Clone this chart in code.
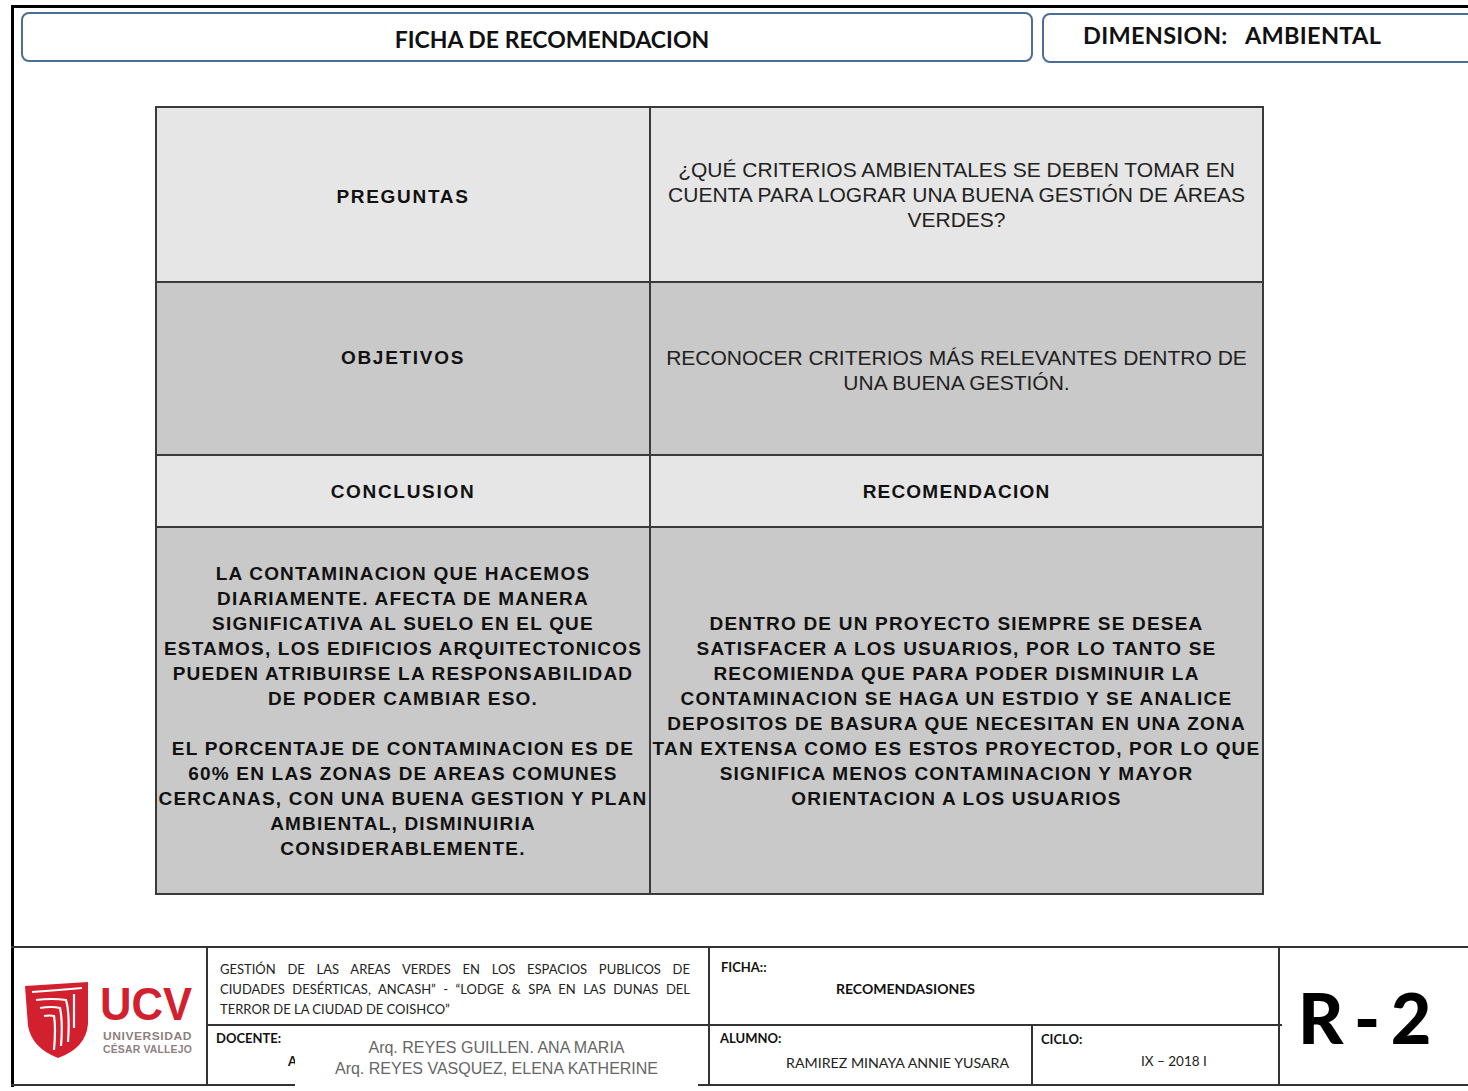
<!DOCTYPE html>
<html>
<head>
<meta charset="utf-8">
<script src="https://cdn.jsdelivr.net/npm/chart.js@4.4.1/dist/chart.umd.min.js"></script>
<style>
  html, body { margin: 0; padding: 0; background: #fff; }
  #page { position: relative; width: 1468px; height: 1091px; overflow: hidden; background: #fff; }
  .abs { position: absolute; }
  .hline { position: absolute; background: #222; }
  .box { position: absolute; border: 2.5px solid #4a6e95; border-radius: 8px; box-sizing: border-box; background: #fff; }
  .cal { font-family: Lato, "Open Sans", sans-serif; color: #111; white-space: nowrap; }
  .cell { position: absolute; box-sizing: border-box; display: flex; flex-direction: column; align-items: center; justify-content: center; font-family: "Liberation Sans", Arial, sans-serif; color: #111; text-align: center; }
  .cell div { white-space: nowrap; line-height: 25px; }
  .bold { font-weight: bold; font-size: 19px; letter-spacing: 1.2px; }
  .label { letter-spacing: 1.7px; }
  .reg { font-weight: normal; font-size: 21px; color: #222; }
  #logoText { position: absolute; left: 100px; top: 984px; font-family: "Liberation Sans", Arial, sans-serif; font-weight: 700; white-space: nowrap; }
  #logoText span { display: block; transform-origin: left top; width: max-content; }
</style>
</head>
<body>
<div id="page"></div>
<script>
// ---- content (text data) ----
const headerTitle = "FICHA DE RECOMENDACION";
const dimensionLabel = "DIMENSION:";
const dimensionValue = "AMBIENTAL";

const rowLabels = ["PREGUNTAS", "OBJETIVOS", "CONCLUSION", ""];
const rowTexts = [
  ["¿QUÉ CRITERIOS AMBIENTALES SE DEBEN TOMAR EN", "CUENTA PARA LOGRAR UNA BUENA GESTIÓN DE ÁREAS", "VERDES?"],
  ["RECONOCER CRITERIOS MÁS RELEVANTES DENTRO DE", "UNA BUENA GESTIÓN."],
  ["RECOMENDACION"]
];
const conclusionLines = [
  "LA CONTAMINACION QUE HACEMOS", "DIARIAMENTE. AFECTA DE MANERA", "SIGNIFICATIVA AL SUELO EN EL QUE",
  "ESTAMOS, LOS EDIFICIOS ARQUITECTONICOS", "PUEDEN ATRIBUIRSE LA RESPONSABILIDAD", "DE PODER CAMBIAR ESO.",
  "", "EL PORCENTAJE DE CONTAMINACION ES DE", "60% EN LAS ZONAS DE AREAS COMUNES",
  "CERCANAS, CON UNA BUENA GESTION Y PLAN", "AMBIENTAL, DISMINUIRIA", "CONSIDERABLEMENTE."
];
const recommendationLines = [
  "DENTRO DE UN PROYECTO SIEMPRE SE DESEA", "SATISFACER A LOS USUARIOS, POR LO TANTO SE",
  "RECOMIENDA QUE PARA PODER DISMINUIR LA", "CONTAMINACION SE HAGA UN ESTDIO Y SE ANALICE",
  "DEPOSITOS DE BASURA QUE NECESITAN EN UNA ZONA", "TAN EXTENSA COMO ES ESTOS PROYECTOD, POR LO QUE",
  "SIGNIFICA MENOS CONTAMINACION Y MAYOR", "ORIENTACION A LOS USUARIOS"
];
const projectLines = [
  "GESTIÓN DE LAS AREAS VERDES EN LOS ESPACIOS PUBLICOS DE",
  "CIUDADES DESÉRTICAS, ANCASH\u201D - \u201CLODGE & SPA EN LAS DUNAS DEL",
  "TERROR DE LA CIUDAD DE COISHCO\u201D"
];
const docentes = ["Arq. REYES GUILLEN. ANA MARIA", "Arq. REYES VASQUEZ, ELENA KATHERINE"];
const fichaLabel = "FICHA::";
const fichaValue = "RECOMENDASIONES";
const alumnoLabel = "ALUMNO:";
const alumnoValue = "RAMIREZ MINAYA ANNIE YUSARA";
const cicloLabel = "CICLO:";
const cicloValue = "IX \u2013 2018 I";
const sheetCode = "R - 2";
const logoLines = ["UCV", "UNIVERSIDAD", "CÉSAR VALLEJO"];

// ---- layout ----
const page = document.getElementById('page');
function el(tag, cls, style, html) {
  const e = document.createElement(tag);
  if (cls) e.className = cls;
  Object.assign(e.style, style || {});
  if (html !== undefined) e.innerHTML = html;
  page.appendChild(e);
  return e;
}
function line(x, y, w, h, c) { return el('div', 'hline', { left: x + 'px', top: y + 'px', width: w + 'px', height: h + 'px', background: c || '#222' }); }
function txt(s) { return s.replace(/&/g, '&amp;').replace(/</g, '&lt;'); }

// page frame
line(11, 5, 1460, 3, '#000');
line(11, 5, 2.5, 1082, '#000');

// header boxes
el('div', 'box', { left: '21px', top: '12px', width: '1012px', height: '50px' });
el('div', 'cal', { position: 'absolute', left: '46px', top: '13px', width: '1012px', height: '50px', lineHeight: '52px', textAlign: 'center', fontWeight: '700', fontSize: '23px' }, txt(headerTitle));
el('div', 'box', { left: '1042px', top: '13px', width: '450px', height: '50px' });
el('div', 'cal', { position: 'absolute', left: '1083px', top: '10px', height: '50px', lineHeight: '50px', fontWeight: '700', fontSize: '23.5px', whiteSpace: 'pre', letterSpacing: '0.3px' }, txt(dimensionLabel + '   ' + dimensionValue));

// table
const tx0 = 156, tx1 = 650, tx2 = 1263;
const ty = [107, 282, 455, 527, 894];
const fills = ['#e6e6e6', '#c9c9c9', '#e6e6e6', '#c9c9c9'];
for (let r = 0; r < 4; r++) {
  el('div', '', { position: 'absolute', left: tx0 + 'px', top: ty[r] + 'px', width: (tx2 - tx0) + 'px', height: (ty[r + 1] - ty[r]) + 'px', background: fills[r] });
}
for (const y of ty) line(tx0 - 1, y - 1, tx2 - tx0 + 2, 2.2, '#3a3a3a');
line(tx0 - 1, ty[0] - 1, 2.2, ty[4] - ty[0] + 2, '#3a3a3a');
line(tx1 - 1, ty[0] - 1, 2.2, ty[4] - ty[0] + 2, '#3a3a3a');
line(tx2 - 1, ty[0] - 1, 2.2, ty[4] - ty[0] + 2, '#3a3a3a');

function cell(x0, y0, x1, y1, lines, cls, extra) {
  const c = el('div', 'cell ' + cls, Object.assign({ left: x0 + 'px', top: y0 + 'px', width: (x1 - x0) + 'px', height: (y1 - y0) + 'px' }, extra || {}));
  for (const l of lines) {
    const d = document.createElement('div');
    d.innerHTML = l === '' ? '&nbsp;' : txt(l);
    c.appendChild(d);
  }
}
cell(tx0, ty[0], tx1, ty[1], [rowLabels[0]], 'bold label', { paddingTop: '3px' });
cell(tx0, ty[1], tx1, ty[2], [rowLabels[1]], 'bold label', { paddingBottom: '23px' });
cell(tx0, ty[2], tx1, ty[3], [rowLabels[2]], 'bold label', { paddingTop: '1px' });
cell(tx0, ty[3], tx1, ty[4], conclusionLines, 'bold', {});
cell(tx1, ty[0], tx2, ty[1], rowTexts[0], 'reg', {});
cell(tx1, ty[1], tx2, ty[2], rowTexts[1], 'reg', { paddingTop: '2px' });
cell(tx1, ty[2], tx2, ty[3], rowTexts[2], 'bold', { paddingTop: '1px' });
cell(tx1, ty[3], tx2, ty[4], recommendationLines, 'bold', {});

// footer grid
line(11, 946, 1460, 2, '#333');
line(11, 1084, 1460, 2, '#333');
line(206, 946, 2, 140, '#333');
line(708, 946, 2, 140, '#333');
line(1278, 946, 2, 140, '#333');
line(206, 1024, 1076, 2, '#333');
line(1031, 1024, 2, 62, '#333');

const pj = el('div', 'cal', { position: 'absolute', left: '220px', top: '959px', width: '470px', fontSize: '13px', lineHeight: '20px', color: '#222' });
projectLines.forEach((l, i) => {
  const d = document.createElement('div');
  d.innerHTML = txt(l);
  d.style.textAlign = i < 2 ? 'justify' : 'left';
  d.style.textAlignLast = i < 2 ? 'justify' : 'left';
  pj.appendChild(d);
});

el('div', 'cal', { position: 'absolute', left: '216px', top: '1030px', fontSize: '13px', fontWeight: '700' }, 'DOCENTE:');
el('div', 'cal', { position: 'absolute', left: '288px', top: '1053px', fontSize: '13px', fontWeight: '700' }, 'A');
const dv = el('div', '', { position: 'absolute', left: '295px', top: '1031px', width: '403px', height: '60px', background: '#fff', fontFamily: '"Liberation Sans", Arial, sans-serif', fontSize: '16px', color: '#666', textAlign: 'center', lineHeight: '21px', paddingTop: '6px', boxSizing: 'border-box', whiteSpace: 'nowrap' });
dv.innerHTML = docentes.map(txt).join('<br>');

el('div', 'cal', { position: 'absolute', left: '721px', top: '959px', fontSize: '13px', fontWeight: '700' }, txt(fichaLabel));
el('div', 'cal', { position: 'absolute', left: '836px', top: '980px', fontSize: '14px', fontWeight: '700' }, txt(fichaValue));
el('div', 'cal', { position: 'absolute', left: '720px', top: '1030px', fontSize: '13px', fontWeight: '700' }, txt(alumnoLabel));
el('div', 'cal', { position: 'absolute', left: '786px', top: '1054px', fontSize: '14.2px', color: '#222' }, txt(alumnoValue));
el('div', 'cal', { position: 'absolute', left: '1041px', top: '1031px', fontSize: '13px', fontWeight: '700' }, txt(cicloLabel));
el('div', 'cal', { position: 'absolute', left: '1141px', top: '1053px', fontSize: '13.5px', color: '#222' }, txt(cicloValue));
el('div', 'cal', { position: 'absolute', left: '1298px', top: '972px', fontSize: '70px', fontWeight: '900', lineHeight: '90px', color: '#000', letterSpacing: '-3px' }, txt(sheetCode));

// logo
const svg = `<svg class="abs" style="left:22px;top:980px" width="72" height="82" viewBox="0 0 72 82">
  <path d="M3 6 L66 2 L66 44 Q64 68 36 78 Q10 68 6 46 Z" fill="#d3202f"/>
  <path d="M10 12 Q38 10 60 8" stroke="#fff" stroke-width="2.2" fill="none"/>
  <path d="M14 20 Q30 18 44 20 Q48 34 46 62" stroke="#fff" stroke-width="2.2" fill="none"/>
  <path d="M18 28 Q30 26 38 28 Q41 42 39 66" stroke="#fff" stroke-width="2.2" fill="none"/>
  <path d="M22 36 Q28 35 32 36 Q34 48 32 70" stroke="#fff" stroke-width="2.2" fill="none"/>
  <path d="M52 14 L52 48" stroke="#fff" stroke-width="2.2" fill="none"/>
</svg>`;
page.insertAdjacentHTML('beforeend', svg);
const logo = el('div', '', {});
logo.id = 'logoText';
logo.innerHTML =
  '<span style="font-size:46px;line-height:40px;color:#d3202f">' + logoLines[0] + '</span>' +
  '<span style="font-size:11px;line-height:14px;color:#8e7f7f;letter-spacing:0.5px;margin-left:3px;margin-top:5px">' + logoLines[1] + '</span>' +
  '<span style="font-size:11px;line-height:13px;color:#8e7f7f;letter-spacing:0.2px;margin-left:3px">' + logoLines[2] + '</span>';
const targets = [92, 89, 89];
[...logo.children].forEach((s, i) => {
  const w = s.getBoundingClientRect().width;
  if (w > 0) s.style.transform = 'scaleX(' + (targets[i] / w) + ')';
});
</script>
</body>
</html>
